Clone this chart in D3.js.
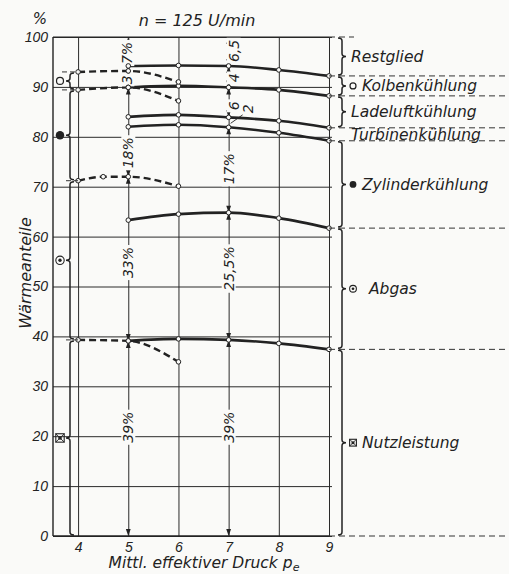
<!DOCTYPE html>
<html>
<head>
<meta charset="utf-8">
<style>
    body { margin: 0; background: #fafaf8; }
    svg { font-family: 'DejaVu Sans', sans-serif; font-style: italic; }
    .axis .domain { display: none; }
    .axis .tick line { stroke: #2a2a2a; stroke-width: 1; }
    .axis .tick text { font-size: 14px; fill: #222; font-style: italic; }
    .label { font-size: 15.5px; fill: #222; }
</style>
</head>
<body>
<svg width="509" height="574"></svg>
<script src="https://d3js.org/d3.v7.min.js"></script>
<script>
// mittl. effektiver Druck (solid = mit Aufladung, dashed = ohne)
const pe = [5, 6, 7, 8, 9];
const kolbenTop = [94.2, 94.3, 94.2, 93.4, 92.2];
const ladeluftTop = [89.9, 90.2, 89.9, 89.4, 88.2];
const turbinenTop = [84.0, 84.4, 83.9, 83.2, 81.8];
const zylinderTop = [82.0, 82.4, 81.9, 80.8, 79.2];
const abgasTop = [63.3, 64.5, 64.8, 63.7, 61.7];
const nutzTop = [39.1, 39.5, 39.3, 38.6, 37.4];

const peD = [4, 5, 6];
const kolbenTopD = [93.0, 93.2, 91.0];
const zylinderTopD = [89.4, 89.9, 87.2];
const peAbgasD = [4, 4.5, 5, 6];
const abgasTopD = [71.2, 72.0, 72.0, 70.1];
const nutzTopD = [39.3, 39.1, 34.9];

const yTicks = [0, 10, 20, 30, 40, 50, 60, 70, 80, 90, 100];
const xTicks = [4, 5, 6, 7, 8, 9];

const categories = ["Restglied", "Kolbenkühlung", "Ladeluftkühlung", "Turbinenkühlung", "Zylinderkühlung", "Abgas", "Nutzleistung"];
const catSymbols = ["", "open", "", "", "filled", "double", "boxx"];

const leftCats = ["Kolbenkühlung", "Zylinderkühlung", "Abgas", "Nutzleistung"];
const leftSymbols = ["open", "filled", "double", "boxx"];

// dimension arrows
const dim5Labels = ["7%", "3", "18%", "33%", "39%"];
const dim5LabelAt = [96.8, 91.4, 76.8, 54.8, 21.8];
const dim7Labels = ["6,5", "4", "6", "2", "17%", "25,5%", "39%"];
const dim7LabelAt = [97.2, 91.8, 86.2, 85.6, 73.6, 53.6, 21.8];

let svg = d3.select("svg");
const ink = "#222";
const paper = "#fafaf8";

let x = d3.scaleLinear().domain([3.5, 9]).range([53, 329]);
let y = d3.scaleLinear().domain([0, 100]).range([536, 37]);

// grid via axes
svg.append("g")
    .attr("class", "y axis")
    .attr("transform", `translate(${x(3.5)},0)`)
    .call(d3.axisLeft(y).tickValues(yTicks).tickSize(-(x(9) - x(3.5) + 3)).tickPadding(5));

svg.append("g")
    .attr("class", "x axis")
    .attr("transform", `translate(0,${y(0)})`)
    .call(d3.axisBottom(x).tickValues(xTicks).tickFormat(d3.format("d"))
        .tickSize(-(y(0) - y(100))).tickPadding(6));

// frame
svg.append("line").attr("x1", x(3.5)).attr("x2", x(3.5)).attr("y1", y(100)).attr("y2", y(0))
    .attr("stroke", ink).attr("stroke-width", 1.4);
svg.append("line").attr("x1", x(3.5)).attr("x2", x(9)).attr("y1", y(0)).attr("y2", y(0))
    .attr("stroke", ink).attr("stroke-width", 1.4);
svg.append("line").attr("x1", x(3.5)).attr("x2", x(9)).attr("y1", y(100)).attr("y2", y(100))
    .attr("stroke", ink).attr("stroke-width", 1.1);

// curves
let line = d3.line().x(d => x(d[0])).y(d => y(d[1])).curve(d3.curveMonotoneX);

let solid = [kolbenTop, ladeluftTop, turbinenTop, zylinderTop, abgasTop, nutzTop];
solid.forEach(s => {
    svg.append("path").attr("d", line(d3.zip(pe, s)))
        .attr("fill", "none").attr("stroke", ink).attr("stroke-width", 2.6);
});

let dashed = [[peD, kolbenTopD], [peD, zylinderTopD], [peAbgasD, abgasTopD], [peD, nutzTopD]];
dashed.forEach(([xs, s]) => {
    svg.append("path").attr("d", line(d3.zip(xs, s)))
        .attr("fill", "none").attr("stroke", ink).attr("stroke-width", 2.4)
        .attr("stroke-dasharray", "7,4");
});

// dimension arrows
function arrowHead(px, py, dir) { // dir -1 points up, +1 points down
    const l = 7, w = 2.4;
    svg.append("path")
        .attr("d", `M${px},${py} L${px - w},${py - dir * l} L${px + w},${py - dir * l} Z`)
        .attr("fill", ink);
}

function rotLabel(px, py, txt, bg) {
    let g = svg.append("g").attr("transform", `translate(${px},${py}) rotate(-90)`);
    let t = g.append("text").attr("text-anchor", "middle").attr("dy", "0.36em")
        .style("font-size", "14px").attr("fill", ink).text(txt);
    if (bg) {
        let b = t.node().getBBox();
        g.insert("rect", "text").attr("x", b.x - 2).attr("y", b.y + 1).attr("width", b.width + 4)
            .attr("height", b.height - 2).attr("fill", paper);
    }
}

function dimension(pos, bounds, labels, labelAt, dx) {
    const px = x(pos);
    labels.forEach((lab, i) => {
        const ya = y(bounds[i]), yb = y(bounds[i + 1]);
        if (yb - ya > 14) {
            arrowHead(px, ya, -1);
            arrowHead(px, yb, 1);
        }
        const big = yb - ya > 60;
        if (lab === "2") {
            svg.append("line").attr("x1", px + 14).attr("y1", y(labelAt[i]) + 6)
                .attr("x2", px + 2).attr("y2", (ya + yb) / 2 + 1)
                .attr("stroke", ink).attr("stroke-width", 0.9);
            rotLabel(px + 19, y(labelAt[i]), lab, false);
        } else {
            rotLabel(px + (big ? 0 : dx), y(labelAt[i]), lab, true);
        }
    });
}

dimension(5, [100, kolbenTopD[1], zylinderTopD[1], abgasTopD[2], nutzTopD[1], 0], dim5Labels, dim5LabelAt, -1);
dimension(7, [100, kolbenTop[2], ladeluftTop[2], turbinenTop[2], zylinderTop[2], abgasTop[2], nutzTop[2], 0], dim7Labels, dim7LabelAt, 5);

// point markers
let pts = [];
solid.forEach(s => pe.forEach((p, i) => pts.push([p, s[i]])));
dashed.forEach(([xs, s]) => xs.forEach((p, i) => pts.push([p, s[i]])));
svg.selectAll("circle.pt").data(pts).join("circle")
    .attr("class", "pt")
    .attr("cx", d => x(d[0])).attr("cy", d => y(d[1])).attr("r", 2.3)
    .attr("fill", paper).attr("stroke", ink).attr("stroke-width", 1);

// symbols
function symbol(kind, cx, cy, s) {
    if (kind === "open") {
        svg.append("circle").attr("cx", cx).attr("cy", cy).attr("r", s)
            .attr("fill", "none").attr("stroke", ink).attr("stroke-width", 1.2);
    } else if (kind === "filled") {
        svg.append("circle").attr("cx", cx).attr("cy", cy).attr("r", s).attr("fill", ink);
    } else if (kind === "double") {
        svg.append("circle").attr("cx", cx).attr("cy", cy).attr("r", s)
            .attr("fill", "none").attr("stroke", ink).attr("stroke-width", 1.1);
        svg.append("circle").attr("cx", cx).attr("cy", cy).attr("r", s * 0.4).attr("fill", ink);
    } else if (kind === "boxx") {
        svg.append("rect").attr("x", cx - s).attr("y", cy - s).attr("width", 2 * s).attr("height", 2 * s)
            .attr("fill", "none").attr("stroke", ink).attr("stroke-width", 1.1);
        svg.append("path").attr("d", `M${cx - s},${cy - s}L${cx + s},${cy + s}M${cx + s},${cy - s}L${cx - s},${cy + s}`)
            .attr("stroke", ink).attr("stroke-width", 0.9);
        svg.append("circle").attr("cx", cx).attr("cy", cy).attr("r", s * 0.45).attr("fill", ink);
    }
}

// braces
function brace(bx, ya, yb, dir) {
    const h = 4 * dir, r = 3, ym = (ya + yb) / 2;
    let p = d3.path();
    p.moveTo(bx - h, ya);
    p.quadraticCurveTo(bx, ya, bx, ya + r);
    p.lineTo(bx, ym - r);
    p.quadraticCurveTo(bx, ym, bx + h, ym);
    p.quadraticCurveTo(bx, ym, bx, ym + r);
    p.lineTo(bx, yb - r);
    p.quadraticCurveTo(bx, yb, bx - h, yb);
    svg.append("path").attr("d", p.toString()).attr("fill", "none")
        .attr("stroke", ink).attr("stroke-width", 1.5);
    return ym;
}

// right side
const last = pe.length - 1;
let rightBounds = [100].concat(solid.map(s => s[last])).concat([0]);
rightBounds.forEach((v, i) => {
    svg.append("line").attr("x1", x(9)).attr("x2", i === 0 ? 354 : 509)
        .attr("y1", y(v)).attr("y2", y(v))
        .attr("stroke", "#333").attr("stroke-width", 1).attr("stroke-dasharray", "6,4");
});
categories.forEach((c, i) => {
    const ya = y(rightBounds[i]), yb = y(rightBounds[i + 1]);
    let ym = (ya + yb) / 2;
    if (yb - ya > 15) ym = brace(342, ya + 1, yb - 1, 1);
    if (catSymbols[i]) symbol(catSymbols[i], 353, ym, catSymbols[i] === "open" ? 3 : 3.4);
    svg.append("text").attr("class", "label")
        .attr("x", catSymbols[i] ? (c === "Abgas" ? 369 : 362) : 351)
        .attr("y", ym).attr("dy", "0.35em").text(c);
});

// left side
let leftBounds = [kolbenTopD[0], zylinderTopD[0], abgasTopD[0], nutzTopD[0], 0];
leftBounds.slice(0, 4).forEach((v, i) => {
    svg.append("line").attr("x1", i < 2 ? 62 : 66).attr("x2", x(4))
        .attr("y1", y(v)).attr("y2", y(v))
        .attr("stroke", "#333").attr("stroke-width", 1).attr("stroke-dasharray", "5,3");
});
leftCats.forEach((c, i) => {
    const ya = y(leftBounds[i]), yb = y(leftBounds[i + 1]);
    const ym = brace(70, ya + 1, yb - 1, -1);
    symbol(leftSymbols[i], 60, ym, leftSymbols[i] === "open" ? 3.5 : 4.2);
});

// titles
svg.append("text").attr("x", 197).attr("y", 26).attr("text-anchor", "middle")
    .style("font-size", "16px").attr("fill", ink).text("n = 125 U/min");
svg.append("text").attr("x", 40).attr("y", 24).attr("text-anchor", "middle")
    .style("font-size", "15px").attr("fill", ink).text("%");
svg.append("text").attr("transform", "translate(31,273) rotate(-90)").attr("text-anchor", "middle")
    .style("font-size", "16px").attr("fill", ink).text("Wärmeanteile");
let xt = svg.append("text").attr("x", 204).attr("y", 568).attr("text-anchor", "middle")
    .style("font-size", "15.5px").attr("fill", ink);
xt.append("tspan").text("Mittl. effektiver Druck p");
xt.append("tspan").attr("dy", 3).style("font-size", "11px").text("e");
</script>
</body>
</html>
